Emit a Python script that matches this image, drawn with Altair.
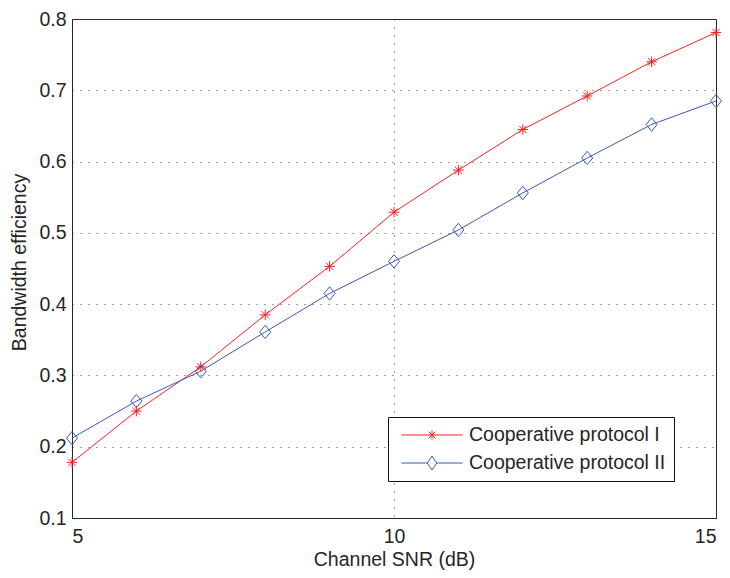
import altair as alt
import pandas as pd

snr = [5, 6, 7, 8, 9, 10, 11, 12, 13, 14, 15]
protocol_1 = [0.178, 0.250, 0.312, 0.385, 0.453, 0.529, 0.588, 0.645, 0.692, 0.740, 0.781]
protocol_2 = [0.212, 0.264, 0.306, 0.361, 0.415, 0.460, 0.504, 0.556, 0.605, 0.652, 0.685]
series_names = ["Cooperative protocol I", "Cooperative protocol II"]
x_ticks = [5, 10, 15]
y_ticks = [0.1, 0.2, 0.3, 0.4, 0.5, 0.6, 0.7, 0.8]

rows = []
for s, vals in zip(series_names, [protocol_1, protocol_2]):
    for x, y in zip(snr, vals):
        rows.append({"snr": x, "eff": y, "series": s})
df = pd.DataFrame(rows)

FONT = "Liberation Sans"
TXT = "#262626"
FS = 19.5
colors = ["#ff2020", "#3a5ab4"]

star = "M-1,0L1,0M0,-1L0,1M-0.7,-0.7L0.7,0.7M-0.7,0.7L0.7,-0.7"
diamond = "M0,-1L0.82,0L0,1L-0.82,0Z"

leg_star = "M-1,0L1,0M0,-0.15L0,0.15M-0.11,-0.11L0.11,0.11M-0.11,0.11L0.11,-0.11"
leg_diam = "M-1,0L-0.155,0M0.155,0L1,0M0,-0.23L0.155,0L0,0.23L-0.155,0Z"

x_enc = alt.X("snr:Q", scale=alt.Scale(domain=[5, 15], nice=False),
              axis=alt.Axis(values=x_ticks, title="Channel SNR (dB)", format="d",
                            titleX=322, titleY=47, titleBaseline="alphabetic",
                            labelPadding=9))
y_enc = alt.Y("eff:Q", scale=alt.Scale(domain=[0.1, 0.8], nice=False, zero=False),
              axis=alt.Axis(values=y_ticks, title="Bandwidth efficiency", format=".1f",
                            titleX=-47, titleY=243, titleBaseline="alphabetic",
                            labelPadding=6))

legend = alt.Legend(
    title=None, orient="none", legendX=316, legendY=398,
    fillColor="white", strokeColor="#111", padding=8,
    symbolSize=3721, clipHeight=20, rowPadding=8, symbolOffset=5, labelOffset=6,
    symbolOpacity=1, symbolStrokeWidth=1, symbolFillColor="transparent",
    labelFont=FONT, labelFontSize=FS, labelColor=TXT, labelLimit=400,
)

def cscale():
    return alt.Scale(domain=series_names, range=colors)

lines = alt.Chart(df).mark_line(strokeWidth=1).encode(
    x=x_enc, y=y_enc,
    color=alt.Color("series:N", scale=cscale(), legend=None),
)

points = alt.Chart(df).mark_point(filled=False, strokeWidth=1, opacity=1).encode(
    x="snr:Q", y="eff:Q",
    color=alt.Color("series:N", scale=cscale(), legend=None),
    shape=alt.Shape("series:N", scale=alt.Scale(domain=series_names, range=[star, diamond]), legend=None),
    size=alt.condition("datum.series === 'Cooperative protocol I'", alt.value(110), alt.value(180)),
)

legend_layer = alt.Chart(df).transform_filter("datum.snr < 0").mark_point(
    filled=False, strokeWidth=1, size=3721
).encode(
    x="snr:Q", y="eff:Q",
    color=alt.Color("series:N", scale=cscale(), legend=legend),
    shape=alt.Shape("series:N", scale=alt.Scale(domain=series_names, range=[leg_star, leg_diam]), legend=legend),
)

chart = alt.layer(lines, points, legend_layer).resolve_scale(
    shape="independent", color="independent"
).properties(
    width=644, height=499,
    padding={"left": 64, "top": 11, "right": 6, "bottom": 58},
    autosize="none",
).configure_view(
    stroke="#262626", strokeWidth=1
).configure_axis(
    grid=True, gridColor="#444", gridDash=[1, 7], gridWidth=1, gridOpacity=1,
    domainColor="#262626", domainWidth=1, ticks=False,
    labelFont=FONT, labelFontSize=FS, labelColor=TXT,
    titleFont=FONT, titleFontSize=FS, titleFontWeight="normal", titleColor=TXT,
)

chart.save("out.html", embed_options={"renderer": "svg", "actions": False})
